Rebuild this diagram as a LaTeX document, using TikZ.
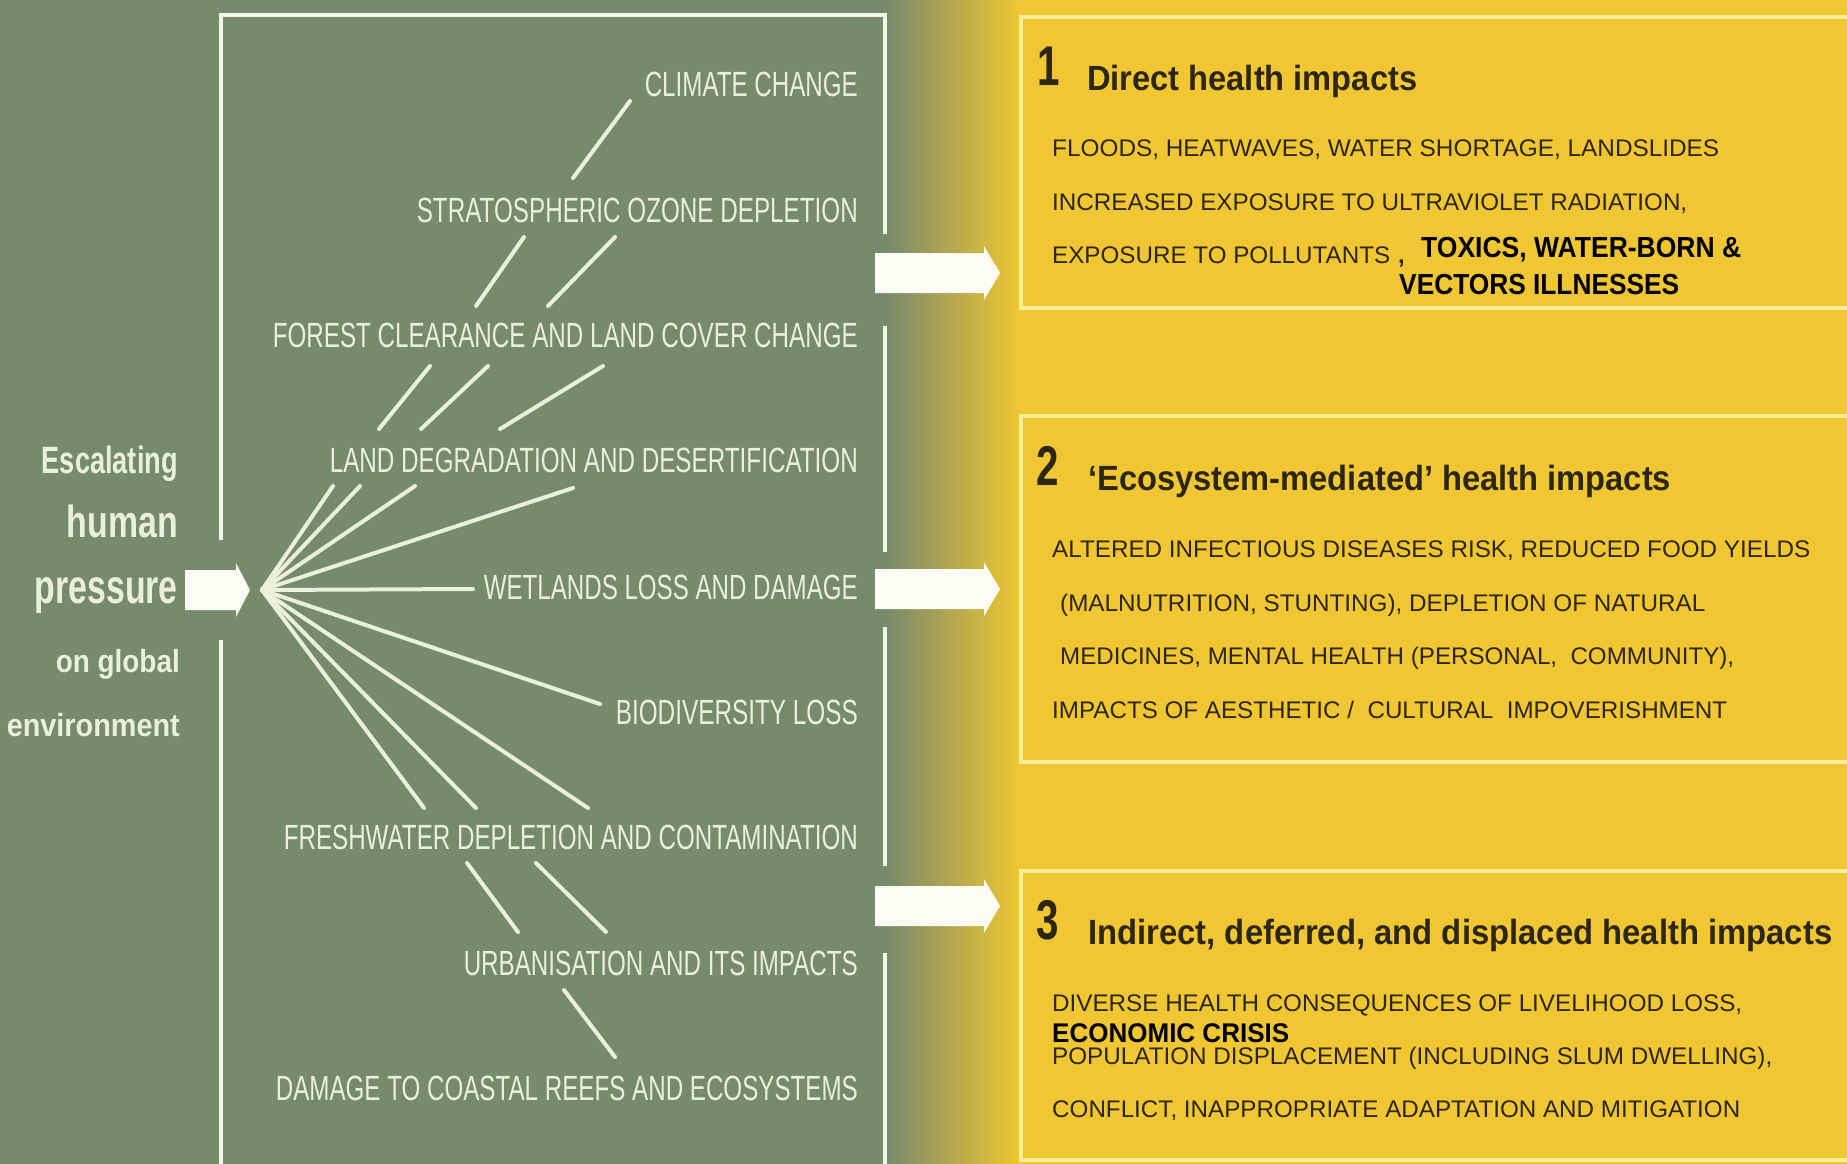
\documentclass[tikz,border=0pt]{standalone}
\usepackage{fontspec}
\setmainfont{Liberation Sans}
\usepackage{graphicx}
\definecolor{bggreen}{RGB}{118,138,108}
\definecolor{bgyellow}{RGB}{240,198,50}
\definecolor{paleline}{RGB}{251,238,150}
\definecolor{cream}{RGB}{234,240,220}
\definecolor{framewhite}{RGB}{244,246,234}
\definecolor{arrowwhite}{RGB}{252,252,244}
\definecolor{ink}{RGB}{44,38,20}
% text squeezed horizontally to a given width: {width}{size}{text}
\newcommand\sqz[3]{\resizebox{#1pt}{\height}{\fontsize{#2pt}{#2pt}\selectfont #3}}
\tikzset{
  factor/.style={anchor=base east, inner sep=0pt, text=cream},
  pressuretext/.style={anchor=base east, inner sep=0pt, text=cream, font=\bfseries},
  body/.style={anchor=base west, inner sep=0pt, text=ink},
  strong/.style={anchor=base west, inner sep=0pt, text=black, font=\bfseries},
  heading/.style={anchor=base west, inner sep=0pt, text=ink, font=\bfseries},
  spoke/.style={draw=cream, line width=4pt, line cap=round},
  frameline/.style={draw=framewhite, line width=4pt},
  panel/.style={draw=paleline, line width=4pt},
  blockarrow/.style={fill=arrowwhite}
}
\begin{document}
\begin{tikzpicture}[x=1pt,y=-1pt]
\useasboundingbox (0,0) rectangle (1847,1164);
\clip (0,0) rectangle (1847,1164);

% background: green field fading into yellow
\fill[bggreen] (0,0) rectangle (890,1164);
\shade[left color=bggreen, right color=bgyellow] (885,0) rectangle (1019,1164);
\fill[bgyellow] (1018,0) rectangle (1847,1164);

% outline around the list of pressures
\draw[frameline] (221,540) -- (221,15) -- (885,15) -- (885,234);
\draw[frameline] (221,640) -- (221,1170);
\draw[frameline] (885,326) -- (885,552);
\draw[frameline] (885,627) -- (885,866);
\draw[frameline] (885,953) -- (885,1170);

% impact panels
\draw[panel] (1021,17) rectangle (1870,308);
\draw[panel] (1021,416) rectangle (1870,762);
\draw[panel] (1021,871) rectangle (1870,1160);

% left caption
\node[pressuretext] (esc) at (178,473) {\sqz{136}{38}{Escalating}};
\node[pressuretext] (hum) at (178,537) {\sqz{111}{45}{human}};
\node[pressuretext] (pre) at (178,603) {\sqz{143}{48}{pressure}};
\node[pressuretext] (ong) at (180,672) {\sqz{124}{32}{on global}};
\node[pressuretext] (env) at (180,736) {\sqz{173}{32}{environment}};

% block arrow into the hub
\fill[blockarrow] (185,570) -- (236,570) -- (236,563) -- (250,590) -- (236,617)
  -- (236,610) -- (185,610) -- cycle;

% block arrows towards the panels
\fill[blockarrow] (875,253) -- (984,253) -- (984,246) -- (1000,273) -- (984,300)
  -- (984,293) -- (875,293) -- cycle;
\fill[blockarrow] (875,569) -- (984,569) -- (984,562) -- (1000,589) -- (984,616)
  -- (984,609) -- (875,609) -- cycle;
\fill[blockarrow] (875,886) -- (984,886) -- (984,879) -- (1000,906) -- (984,933)
  -- (984,926) -- (875,926) -- cycle;

% pressures on the environment
\node[factor] (clim) at (858,96)   {\sqz{213}{35}{CLIMATE CHANGE}};
\node[factor] (ozon) at (858,222)  {\sqz{441}{35}{STRATOSPHERIC OZONE DEPLETION}};
\node[factor] (fore) at (858,347)  {\sqz{585}{35}{FOREST CLEARANCE AND LAND COVER CHANGE}};
\node[factor] (land) at (858,472)  {\sqz{528}{35}{LAND DEGRADATION AND DESERTIFICATION}};
\node[factor] (wetl) at (858,599)  {\sqz{374}{35}{WETLANDS LOSS AND DAMAGE}};
\node[factor] (biod) at (858,724)  {\sqz{242}{35}{BIODIVERSITY LOSS}};
\node[factor] (fres) at (858,849)  {\sqz{574}{35}{FRESHWATER DEPLETION AND CONTAMINATION}};
\node[factor] (urba) at (858,975)  {\sqz{394}{35}{URBANISATION AND ITS IMPACTS}};
\node[factor] (reef) at (858,1100) {\sqz{582}{35}{DAMAGE TO COASTAL REEFS AND ECOSYSTEMS}};

% hub of the fan and the ends of its spokes
\coordinate (hub) at (262,590);
\coordinate (ld1) at (333,486);
\coordinate (ld2) at (360,486);
\coordinate (ld3) at (415,486);
\coordinate (ld4) at (573,488);
\coordinate (wl1) at (473,589);
\coordinate (bd1) at (600,704);
\coordinate (fw1) at (424,808);
\coordinate (fw2) at (476,808);
\coordinate (fw3) at (588,808);
\foreach \e in {ld1,ld2,ld3,ld4,wl1,bd1,fw1,fw2,fw3}
  \draw[spoke] (hub) -- (\e);

% links between neighbouring pressures
\coordinate (cz1a) at (630,101);  \coordinate (cz1b) at (573,178);
\coordinate (of1a) at (524,237);  \coordinate (of1b) at (476,306);
\coordinate (of2a) at (615,237);  \coordinate (of2b) at (548,306);
\coordinate (fl1a) at (430,366);  \coordinate (fl1b) at (379,429);
\coordinate (fl2a) at (488,366);  \coordinate (fl2b) at (421,429);
\coordinate (fl3a) at (603,366);  \coordinate (fl3b) at (500,429);
\coordinate (fu1a) at (467,863);  \coordinate (fu1b) at (518,932);
\coordinate (fu2a) at (536,863);  \coordinate (fu2b) at (606,932);
\coordinate (ur1a) at (564,990);  \coordinate (ur1b) at (615,1057);
\foreach \a/\b in {cz1a/cz1b,of1a/of1b,of2a/of2b,fl1a/fl1b,fl2a/fl2b,fl3a/fl3b,fu1a/fu1b,fu2a/fu2b,ur1a/ur1b}
  \draw[spoke] (\a) -- (\b);

% panel 1
\node[heading] (n1) at (1037,85) {\scalebox{0.72}[1]{\fontsize{56pt}{56pt}\selectfont 1}};
\node[heading] (t1) at (1087,90) {\sqz{330}{35}{Direct health impacts}};
\node[body] (p1a) at (1052,156) {\sqz{667}{24}{FLOODS, HEATWAVES, WATER SHORTAGE, LANDSLIDES}};
\node[body] (p1b) at (1052,210) {\sqz{635}{24}{INCREASED EXPOSURE TO ULTRAVIOLET RADIATION,}};
\node[body] (p1c) at (1052,263) {\sqz{338}{24}{EXPOSURE TO POLLUTANTS}};
\node[body, font=\bfseries] (p1d) at (1398,263) {\fontsize{24pt}{24pt}\selectfont ,};
\node[strong] (p1e) at (1421,257) {\sqz{320}{29}{TOXICS, WATER-BORN \&}};
\node[strong] (p1f) at (1399,294) {\sqz{280}{29}{VECTORS ILLNESSES}};

% panel 2
\node[heading] (n2) at (1036,485) {\scalebox{0.72}[1]{\fontsize{56pt}{56pt}\selectfont 2}};
\node[heading] (t2) at (1088,490) {\sqz{583}{35}{‘Ecosystem-mediated’ health impacts}};
\node[body] (p2a) at (1052,557) {\sqz{758}{24}{ALTERED INFECTIOUS DISEASES RISK, REDUCED FOOD YIELDS}};
\node[body] (p2b) at (1060,611) {\sqz{645}{24}{(MALNUTRITION, STUNTING), DEPLETION OF NATURAL}};
\node[body] (p2c) at (1060,664) {\sqz{674}{24}{MEDICINES, MENTAL HEALTH (PERSONAL,\ \ COMMUNITY),}};
\node[body] (p2d) at (1052,718) {\sqz{675}{24}{IMPACTS OF AESTHETIC /\ \ CULTURAL\ \ IMPOVERISHMENT}};

% panel 3
\node[heading] (n3) at (1036,939) {\scalebox{0.72}[1]{\fontsize{56pt}{56pt}\selectfont 3}};
\node[heading] (t3) at (1088,944) {\sqz{744}{35}{Indirect, deferred, and displaced health impacts}};
\node[body] (p3a) at (1052,1011) {\sqz{690}{24}{DIVERSE HEALTH CONSEQUENCES OF LIVELIHOOD LOSS,}};
\node[strong] (p3b) at (1052,1042) {\sqz{237}{27}{ECONOMIC CRISIS}};
\node[body] (p3c) at (1052,1064) {\sqz{720}{24}{POPULATION DISPLACEMENT (INCLUDING SLUM DWELLING),}};
\node[body] (p3d) at (1052,1117) {\sqz{688}{24}{CONFLICT, INAPPROPRIATE ADAPTATION AND MITIGATION}};
\end{tikzpicture}
\end{document}
